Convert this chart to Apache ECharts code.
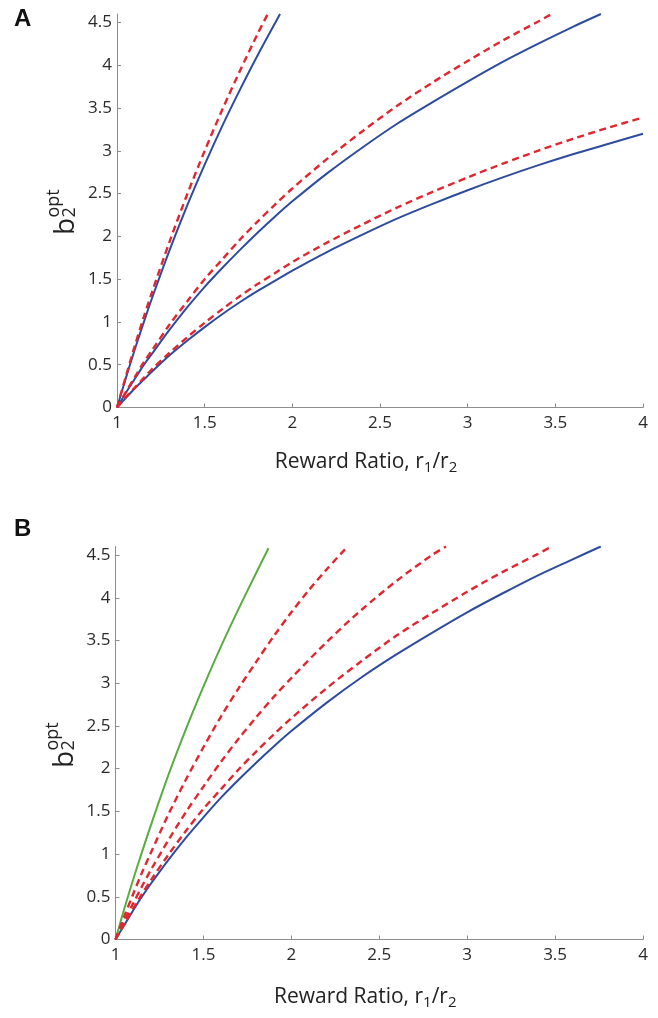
<!DOCTYPE html>
<html>
<head>
<meta charset="utf-8">
<script src="https://cdn.jsdelivr.net/npm/echarts@6/dist/echarts.min.js"></script>
<style>
  html, body { margin: 0; padding: 0; background: #fff; }
  #chart { width: 658px; height: 1018px; }
</style>
</head>
<body>
<div id="chart"></div>
<script>
// ---- Panel A: three model pairs (solid = exact, dashed = approximation) ----
const aSteepSolidX = [1, 1.05, 1.1, 1.15, 1.2, 1.3, 1.4, 1.5, 1.6, 1.7, 1.8, 1.93];
const aSteepSolidY = [0, 0.34, 0.67, 0.98, 1.28, 1.84, 2.36, 2.84, 3.29, 3.71, 4.11, 4.6];
const aSteepDashX  = [1, 1.05, 1.1, 1.15, 1.2, 1.3, 1.4, 1.5, 1.6, 1.7, 1.8, 1.86];
const aSteepDashY  = [0, 0.36, 0.71, 1.04, 1.35, 1.94, 2.49, 3.0, 3.48, 3.93, 4.36, 4.6];

const aMidSolidX = [1, 1.05, 1.1, 1.15, 1.2, 1.3, 1.4, 1.5, 1.6, 1.7, 1.8, 1.9, 2, 2.2, 2.4, 2.6, 2.8, 3, 3.2, 3.4, 3.6, 3.76];
const aMidSolidY = [0, 0.17, 0.33, 0.49, 0.63, 0.91, 1.17, 1.41, 1.63, 1.84, 2.04, 2.23, 2.41, 2.74, 3.04, 3.32, 3.57, 3.81, 4.04, 4.25, 4.45, 4.6];
const aMidDashX  = [1, 1.05, 1.1, 1.15, 1.2, 1.3, 1.4, 1.5, 1.6, 1.7, 1.8, 1.9, 2, 2.2, 2.4, 2.6, 2.8, 3, 3.2, 3.4, 3.48];
const aMidDashY  = [0, 0.18, 0.35, 0.52, 0.67, 0.97, 1.24, 1.5, 1.73, 1.96, 2.17, 2.37, 2.56, 2.91, 3.23, 3.53, 3.8, 4.05, 4.29, 4.51, 4.6];

const aLowSolidX = [1, 1.05, 1.1, 1.15, 1.2, 1.3, 1.4, 1.5, 1.6, 1.7, 1.8, 1.9, 2, 2.2, 2.4, 2.6, 2.8, 3, 3.2, 3.4, 3.6, 3.8, 4];
const aLowSolidY = [0, 0.11, 0.22, 0.32, 0.42, 0.61, 0.78, 0.94, 1.09, 1.23, 1.36, 1.48, 1.6, 1.82, 2.02, 2.21, 2.38, 2.54, 2.69, 2.83, 2.96, 3.08, 3.2];
const aLowDashX  = [1, 1.05, 1.1, 1.15, 1.2, 1.3, 1.4, 1.5, 1.6, 1.7, 1.8, 1.9, 2, 2.2, 2.4, 2.6, 2.8, 3, 3.2, 3.4, 3.6, 3.8, 4];
const aLowDashY  = [0, 0.12, 0.23, 0.34, 0.45, 0.64, 0.82, 0.99, 1.15, 1.3, 1.44, 1.57, 1.7, 1.93, 2.14, 2.34, 2.52, 2.69, 2.85, 3.0, 3.14, 3.27, 3.39];

// ---- Panel B: green bound, three dashed approximations, blue exact ----
const bGreenX = [1, 1.05, 1.1, 1.15, 1.2, 1.3, 1.4, 1.5, 1.6, 1.7, 1.8, 1.87];
const bGreenY = [0, 0.36, 0.7, 1.02, 1.33, 1.92, 2.46, 2.96, 3.43, 3.87, 4.29, 4.58];
const bDash1X = [1, 1.05, 1.1, 1.15, 1.2, 1.3, 1.4, 1.5, 1.6, 1.7, 1.8, 1.9, 2, 2.1, 2.2, 2.32];
const bDash1Y = [0, 0.27, 0.53, 0.78, 1.01, 1.46, 1.87, 2.25, 2.61, 2.94, 3.25, 3.55, 3.83, 4.09, 4.33, 4.6];
const bDash2X = [1, 1.05, 1.1, 1.15, 1.2, 1.3, 1.4, 1.5, 1.6, 1.7, 1.8, 1.9, 2, 2.2, 2.4, 2.6, 2.8, 2.88];
const bDash2Y = [0, 0.22, 0.42, 0.62, 0.81, 1.16, 1.49, 1.79, 2.08, 2.35, 2.6, 2.84, 3.06, 3.48, 3.86, 4.2, 4.5, 4.6];
const bDash3X = [1, 1.05, 1.1, 1.15, 1.2, 1.3, 1.4, 1.5, 1.6, 1.7, 1.8, 1.9, 2, 2.2, 2.4, 2.6, 2.8, 3, 3.2, 3.4, 3.48];
const bDash3Y = [0, 0.18, 0.36, 0.53, 0.69, 0.99, 1.27, 1.53, 1.76, 1.99, 2.2, 2.4, 2.59, 2.94, 3.26, 3.56, 3.82, 4.07, 4.3, 4.51, 4.6];
const bSolidX = [1, 1.05, 1.1, 1.15, 1.2, 1.3, 1.4, 1.5, 1.6, 1.7, 1.8, 1.9, 2, 2.2, 2.4, 2.6, 2.8, 3, 3.2, 3.4, 3.6, 3.76];
const bSolidY = [0, 0.17, 0.34, 0.5, 0.65, 0.93, 1.19, 1.43, 1.66, 1.87, 2.07, 2.26, 2.44, 2.77, 3.07, 3.34, 3.59, 3.83, 4.05, 4.26, 4.45, 4.6];

// ---- Axis ticks ----
const xTicks = [1, 1.5, 2, 2.5, 3, 3.5, 4];
const yTicks = [0, 0.5, 1, 1.5, 2, 2.5, 3, 3.5, 4, 4.5];

const BLUE = '#2d4c9e';
const RED = '#e2262f';
const GREEN = '#5aac40';
const AXIS_GREY = '#8c8c8c';
const FONT = '"Open Sans", "DejaVu Sans", sans-serif';

const zip = (xs, ys) => xs.map((x, i) => [x, ys[i]]);

function solid(idx, xs, ys, color) {
  return {
    type: 'line', xAxisIndex: idx, yAxisIndex: idx,
    data: zip(xs, ys), smooth: 0.3, symbol: 'none',
    lineStyle: { color: color, width: 2 }
  };
}
function dashed(idx, xs, ys) {
  return {
    type: 'line', xAxisIndex: idx, yAxisIndex: idx,
    data: zip(xs, ys), smooth: 0.3, symbol: 'none',
    lineStyle: { color: RED, width: 2.4, type: [7, 4.5] }
  };
}

function xAxisFor(idx, gap) {
  return {
    type: 'value', gridIndex: idx, min: 1, max: 4, interval: 0.5,
    axisLine: { show: true, lineStyle: { color: AXIS_GREY, width: 1 } },
    axisTick: { show: true, inside: true, length: 4, customValues: xTicks,
                lineStyle: { color: AXIS_GREY } },
    axisLabel: { customValues: xTicks, color: '#2a2a2a', fontSize: 17,
                 fontFamily: FONT, margin: 7, formatter: v => String(v) },
    splitLine: { show: false },
    name: 'Reward Ratio, r{s|1}/r{s|2}',
    nameLocation: 'middle', nameGap: gap,
    nameTextStyle: {
      color: '#222', fontSize: 21, fontFamily: FONT, padding: [0, 28, 0, 0],
      rich: { s: { fontSize: 15, fontFamily: FONT, color: '#222', padding: [12, 0, 0, 0] } }
    }
  };
}
function yAxisFor(idx) {
  return {
    type: 'value', gridIndex: idx, min: 0, max: 4.6, interval: 0.5,
    axisLine: { show: true, lineStyle: { color: AXIS_GREY, width: 1 } },
    axisTick: { show: true, inside: true, length: 4, customValues: yTicks,
                lineStyle: { color: AXIS_GREY } },
    axisLabel: { customValues: yTicks, color: '#2a2a2a', fontSize: 17,
                 fontFamily: FONT, margin: 5, formatter: v => String(v) },
    splitLine: { show: false }
  };
}

// rotated y-axis title: b with subscript 2 and superscript opt
function yTitle(cx, cy) {
  return {
    type: 'group', x: cx, y: cy, rotation: Math.PI / 2,
    children: [
      { type: 'text', x: 0, y: 0,
        style: { text: 'b', fontSize: 28, fontFamily: FONT, fill: '#222',
                 align: 'left', verticalAlign: 'top' } },
      { type: 'text', x: 17.5, y: 9,
        style: { text: '2', fontSize: 18, fontFamily: FONT, fill: '#222',
                 align: 'left', verticalAlign: 'top' } },
      { type: 'text', x: 17.5, y: -7,
        style: { text: 'opt', fontSize: 18, fontFamily: FONT, fill: '#222',
                 align: 'left', verticalAlign: 'top' } }
    ]
  };
}

const option = {
  backgroundColor: '#fff',
  animation: false,
  grid: [
    { left: 117, top: 14, width: 526, height: 393.5 },
    { left: 115.5, top: 546.5, width: 527.5, height: 393 }
  ],
  xAxis: [xAxisFor(0, 41), xAxisFor(1, 44)],
  yAxis: [yAxisFor(0), yAxisFor(1)],
  series: [
    solid(0, aSteepSolidX, aSteepSolidY, BLUE),
    solid(0, aMidSolidX, aMidSolidY, BLUE),
    solid(0, aLowSolidX, aLowSolidY, BLUE),
    dashed(0, aSteepDashX, aSteepDashY),
    dashed(0, aMidDashX, aMidDashY),
    dashed(0, aLowDashX, aLowDashY),
    solid(1, bSolidX, bSolidY, BLUE),
    solid(1, bGreenX, bGreenY, GREEN),
    dashed(1, bDash1X, bDash1Y),
    dashed(1, bDash2X, bDash2Y),
    dashed(1, bDash3X, bDash3Y)
  ],
  graphic: [
    { type: 'text', left: 14, top: 7,
      style: { text: 'A', fontSize: 24, fontWeight: 'bold',
               fontFamily: '"Liberation Sans", Arial, sans-serif', fill: '#111' } },
    { type: 'text', left: 14, top: 517,
      style: { text: 'B', fontSize: 24, fontWeight: 'bold',
               fontFamily: '"Liberation Sans", Arial, sans-serif', fill: '#111' } },
    yTitle(52, 235),
    yTitle(51, 768)
  ]
};

const chart = echarts.init(document.getElementById('chart'), null, { renderer: 'canvas' });
chart.setOption(option);
</script>
</body>
</html>
